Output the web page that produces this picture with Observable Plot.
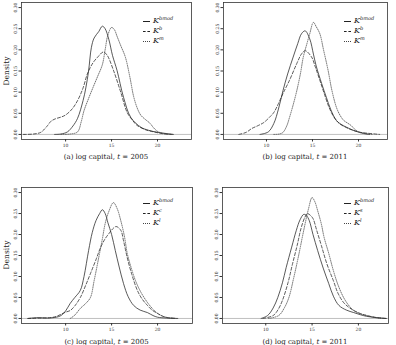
<!DOCTYPE html>
<html><head><meta charset="utf-8">
<script src="https://cdn.jsdelivr.net/npm/d3@7"></script>
<script src="https://cdn.jsdelivr.net/npm/@observablehq/plot@0.6"></script>
<style>
body{margin:0;background:#fff;}
#root{position:relative;width:396px;height:345px;font-family:"DejaVu Serif",serif;color:#222;overflow:hidden;}
.panel{position:absolute;}
.cap{position:absolute;font-size:7px;white-space:nowrap;transform:translate(-50%,-50%);}
.ylab{position:absolute;font-size:7.5px;white-space:nowrap;transform:translate(-50%,-50%) rotate(-90deg);}
.leg{position:absolute;font-size:8px;line-height:10px;}
.leg .row{display:flex;align-items:center;height:10px;white-space:nowrap;}
.leg .smp{display:inline-block;width:7px;border-top-width:0.8px;border-top-color:#333;margin-right:3px;}
.leg .lab{display:inline-block;}
.leg sup{font-size:5px;vertical-align:3.5px;line-height:0;}
</style>
</head><body>
<div id="root"></div>
<script>
// ---- data: [log capital, density] ----
const a_bmod = [[8.8,0],[9.5,0.001],[10.2,0.006],[10.8,0.02],[11.3,0.038],[11.9,0.08],[12.2,0.11],[12.5,0.15],[12.8,0.205],[13.1,0.228],[13.6,0.243],[14.0,0.256],[14.3,0.25],[14.7,0.225],[15.1,0.187],[15.6,0.151],[16.3,0.088],[17.1,0.04],[18.2,0.017],[19.0,0.01],[20.0,0.005],[21.0,0.002],[21.7,0]];
const a_b = [[5.4,0],[6.5,0.001],[7.3,0.005],[8.0,0.02],[8.4,0.031],[8.9,0.037],[9.5,0.041],[10.0,0.046],[10.7,0.06],[11.3,0.08],[11.9,0.11],[12.4,0.145],[13.0,0.17],[13.5,0.183],[14.1,0.195],[14.5,0.188],[15.2,0.152],[16.0,0.1],[16.7,0.052],[17.3,0.033],[17.8,0.021],[18.7,0.011],[19.6,0.006],[20.5,0.002],[21.5,0]];
const a_m = [[9.5,0],[10.5,0.001],[11.3,0.006],[11.7,0.03],[12.0,0.056],[12.5,0.085],[13.0,0.112],[13.5,0.138],[14.0,0.165],[14.3,0.2],[14.6,0.235],[15.0,0.253],[15.3,0.248],[15.6,0.232],[16.0,0.21],[16.5,0.183],[17.0,0.135],[17.4,0.09],[17.8,0.062],[18.2,0.045],[18.7,0.035],[19.2,0.026],[19.6,0.015],[20.1,0.006],[21.0,0.001],[21.7,0]];

const b_bmod = [[9.3,0],[10.2,0.006],[10.8,0.026],[11.3,0.06],[11.8,0.104],[12.3,0.143],[12.9,0.183],[13.4,0.215],[13.8,0.238],[14.2,0.245],[14.7,0.226],[15.1,0.19],[15.4,0.162],[16.0,0.12],[16.5,0.088],[17.0,0.058],[17.6,0.033],[18.1,0.024],[18.7,0.017],[19.4,0.01],[20.1,0.005],[21.2,0]];
const b_b = [[7.0,0],[7.8,0.005],[8.4,0.014],[9.0,0.02],[9.7,0.028],[10.3,0.04],[10.8,0.052],[11.3,0.073],[11.8,0.097],[12.5,0.128],[13.3,0.168],[13.8,0.19],[14.2,0.198],[14.9,0.183],[15.3,0.16],[15.8,0.128],[16.3,0.095],[16.8,0.064],[17.3,0.042],[17.9,0.026],[18.7,0.016],[19.5,0.009],[20.2,0.005],[20.9,0.003],[22.3,0]];
const b_m = [[10.8,0],[11.4,0.001],[11.8,0.005],[12.2,0.02],[12.5,0.04],[12.9,0.07],[13.3,0.104],[13.7,0.145],[14.0,0.183],[14.4,0.215],[14.7,0.238],[15.1,0.265],[15.4,0.255],[15.8,0.238],[16.2,0.2],[16.7,0.151],[17.1,0.105],[17.6,0.064],[18.0,0.045],[18.4,0.033],[18.8,0.027],[19.2,0.021],[19.6,0.012],[20.1,0.005],[20.8,0.001],[21.6,0]];

const c_bmod = [[5.9,0],[7.0,0.002],[8.0,0.001],[9.0,0.003],[9.5,0.007],[10.0,0.018],[10.5,0.036],[11.0,0.05],[11.6,0.067],[12.0,0.1],[12.5,0.162],[12.9,0.205],[13.3,0.233],[13.7,0.25],[14.0,0.259],[14.3,0.25],[14.6,0.228],[15.0,0.2],[15.4,0.162],[15.8,0.125],[16.3,0.083],[16.8,0.052],[17.4,0.031],[18.1,0.02],[18.9,0.014],[19.5,0.007],[20.0,0.003],[21.0,0.001],[22.2,0]];
const c_c = [[5.9,0],[7.5,0.001],[8.4,0.002],[9.0,0.005],[9.5,0.01],[10.0,0.015],[10.5,0.019],[11.0,0.03],[11.6,0.05],[12.2,0.08],[12.7,0.107],[13.3,0.14],[13.8,0.169],[14.3,0.19],[14.7,0.202],[15.1,0.213],[15.5,0.219],[16.0,0.21],[16.3,0.185],[16.7,0.145],[17.2,0.105],[17.8,0.067],[18.3,0.047],[18.9,0.031],[19.4,0.02],[20.0,0.012],[20.6,0.005],[21.1,0.002],[22.0,0]];
const c_l = [[10.5,0],[11.0,0.008],[11.6,0.024],[12.2,0.036],[12.7,0.05],[13.1,0.09],[13.6,0.145],[14.0,0.19],[14.3,0.226],[14.7,0.255],[15.2,0.276],[15.6,0.262],[16.0,0.233],[16.4,0.195],[16.7,0.155],[17.1,0.123],[17.6,0.09],[18.2,0.062],[18.9,0.038],[19.5,0.022],[20.0,0.012],[20.6,0.005],[21.1,0.002],[22.0,0]];

const d_bmod = [[9.5,0],[10.2,0.007],[10.8,0.025],[11.3,0.05],[11.8,0.085],[12.2,0.121],[12.8,0.17],[13.3,0.21],[13.7,0.235],[14.1,0.248],[14.4,0.245],[14.7,0.233],[15.1,0.2],[15.6,0.162],[16.2,0.12],[16.8,0.083],[17.3,0.053],[17.9,0.031],[18.7,0.02],[19.5,0.014],[20.2,0.009],[20.9,0.005],[22.0,0.002],[23.0,0]];
const d_s = [[9.7,0],[10.8,0.007],[11.3,0.02],[11.8,0.043],[12.4,0.085],[12.9,0.131],[13.4,0.175],[13.8,0.214],[14.2,0.24],[14.5,0.25],[14.8,0.246],[15.1,0.238],[15.5,0.21],[16.0,0.174],[16.6,0.13],[17.3,0.09],[17.8,0.06],[18.4,0.038],[19.0,0.026],[19.5,0.019],[20.2,0.012],[20.9,0.007],[22.0,0.002],[23.0,0]];
const d_l = [[10.3,0],[11.4,0.007],[12.0,0.025],[12.5,0.05],[13.0,0.095],[13.5,0.145],[14.1,0.21],[14.6,0.26],[15.0,0.288],[15.3,0.278],[15.6,0.257],[16.0,0.225],[16.3,0.193],[16.8,0.155],[17.3,0.114],[17.8,0.08],[18.4,0.05],[19.0,0.03],[19.5,0.019],[20.2,0.011],[20.9,0.007],[21.8,0.002],[22.7,0]];

const yTicks = [0, 0.05, 0.10, 0.15, 0.20, 0.25, 0.30];
const xTicks = [10, 15, 20];
const captions = ["(a)", "(b)", "(c)", "(d)"];
const years = [2005, 2011, 2005, 2011];
const legendAB = ["bmod", "b", "m"];
const legendC = ["bmod", "c", "l"];
const legendD = ["bmod", "s", "l"];

// ---- layout ----
const styles = [
  {dash: null, border: "solid", stroke: "#222"},
  {dash: "3,2", border: "dashed", stroke: "#222"},
  {dash: "0.9,1.3", border: "dotted", stroke: "#444"}
];
const panels = [
  {series:[a_bmod,a_b,a_m], leg:legendAB, L:0,   T:0,   W:196, H:152, ml:21, mr:5, mt:2, mb:13, xd:[5.2,23.7], legX:143, legY:16, ylab:true},
  {series:[b_bmod,b_b,b_m], leg:legendAB, L:200, T:0,   W:196, H:152, ml:23, mr:9, mt:2, mb:13, xd:[5.33,23.15], legX:344, legY:16, ylab:false},
  {series:[c_bmod,c_c,c_l], leg:legendC,  L:0,   T:185, W:196, H:152, ml:21, mr:4, mt:2, mb:14, xd:[5.2,23.8], legX:143, legY:198, ylab:true},
  {series:[d_bmod,d_s,d_l], leg:legendD,  L:200, T:185, W:196, H:152, ml:22, mr:8, mt:2, mb:14, xd:[5.33,23.25], legX:344, legY:198, ylab:false}
];

const root = document.getElementById("root");
panels.forEach((p, i) => {
  const marks = [
    Plot.ruleY([0], {stroke: "#b0b0b0", strokeWidth: 0.8}),
    ...p.series.map((s, k) => Plot.line(s, {
      x: d => d[0], y: d => d[1], curve: "catmull-rom",
      stroke: styles[k].stroke, strokeWidth: 0.75,
      strokeDasharray: styles[k].dash
    })),
    Plot.frame({stroke: "#333", strokeWidth: 0.8}),
    Plot.axisX({ticks: xTicks, tickSize: 2.5, tickPadding: 2, fontSize: 4.5, stroke: "#333"}),
    Plot.axisY({ticks: yTicks, tickFormat: d => d.toFixed(2), tickSize: 2.5, tickPadding: 2, fontSize: 4.5, tickRotate: -90, stroke: "#333"})
  ];
  const svg = Plot.plot({
    width: p.W, height: p.H,
    marginLeft: p.ml, marginRight: p.mr, marginTop: p.mt, marginBottom: p.mb,
    x: {domain: p.xd, label: null},
    y: {domain: [-0.012, 0.312], label: null},
    style: {fontFamily: "DejaVu Serif", background: "transparent", color: "#333"},
    marks
  });
  const wrap = document.createElement("div");
  wrap.className = "panel";
  wrap.style.left = p.L + "px"; wrap.style.top = p.T + "px";
  wrap.appendChild(svg);
  root.appendChild(wrap);

  // caption
  const cx = p.L + p.ml + (p.W - p.ml - p.mr) / 2;
  const cap = document.createElement("div");
  cap.className = "cap";
  cap.style.left = cx + "px";
  cap.style.top = (p.T + p.H + 5) + "px";
  cap.innerHTML = `${captions[i]} log capital, <i>t</i> = ${years[i]}`;
  root.appendChild(cap);

  // y label
  if (p.ylab) {
    const yl = document.createElement("div");
    yl.className = "ylab";
    yl.style.left = (p.L + 6) + "px";
    yl.style.top = (p.T + p.mt + (p.H - p.mt - p.mb) / 2) + "px";
    yl.textContent = "Density";
    root.appendChild(yl);
  }

  // legend
  const lg = document.createElement("div");
  lg.className = "leg";
  lg.style.left = p.legX + "px"; lg.style.top = p.legY + "px";
  p.leg.forEach((name, k) => {
    const row = document.createElement("div");
    row.className = "row";
    row.innerHTML = `<span class="smp" style="border-top-style:${styles[k].border};border-top-color:${styles[k].stroke}"></span><span class="lab"><i>K</i><sup><i>${name}</i></sup></span>`;
    lg.appendChild(row);
  });
  root.appendChild(lg);
});
</script>
</body></html>
